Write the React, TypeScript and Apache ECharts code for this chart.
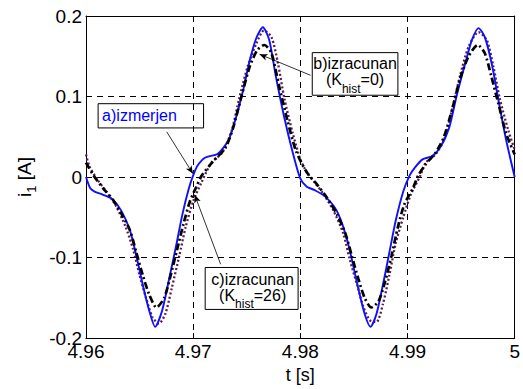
import React, { useEffect, useRef } from 'react';
import * as echarts from 'echarts';

// a) measured current
const tMeasured = [4.9600,4.9604,4.9608,4.9616,4.9625,4.9633,4.9641,4.9647,4.9653,4.9659,4.96645,4.9671,4.9677,4.9684,4.9690,4.9696,4.9700,4.9704,4.9711,4.9723,4.9733,4.9740,4.9747,4.9753,4.9759,4.9765,4.9771,4.9777,4.9785,4.9793,4.9800,4.9806,4.9813,4.9823,4.9834,4.9842,4.9848,4.9854,4.9860,4.98654,4.9871,4.9877,4.9883,4.9889,4.9896,4.9902,4.9907,4.9914,4.9923,4.9931,4.9939,4.9946,4.9954,4.9960,4.99662,4.9972,4.9979,4.9985,4.9992,5.0000];
const iMeasured = [0.000,-0.014,-0.018,-0.022,-0.028,-0.042,-0.066,-0.098,-0.134,-0.166,-0.186,-0.166,-0.130,-0.086,-0.046,-0.014,0.002,0.014,0.024,0.029,0.046,0.074,0.110,0.146,0.173,0.186,0.170,0.126,0.074,0.030,-0.002,-0.012,-0.016,-0.024,-0.042,-0.070,-0.102,-0.138,-0.170,-0.186,-0.170,-0.134,-0.094,-0.054,-0.018,0.002,0.012,0.022,0.026,0.038,0.062,0.102,0.142,0.170,0.185,0.174,0.138,0.094,0.046,0.000];

// b) computed, Khist = 0
const tCalc0 = [4.9600,4.9607,4.9616,4.9625,4.9634,4.9641,4.9647,4.9653,4.9659,4.96657,4.9673,4.9679,4.9685,4.9691,4.9697,4.9703,4.9708,4.9719,4.9730,4.9737,4.9745,4.9753,4.9760,4.97665,4.9773,4.9780,4.9788,4.9796,4.9806,4.9816,4.9825,4.9834,4.9842,4.9848,4.9854,4.9860,4.98663,4.9873,4.9879,4.9885,4.9891,4.9897,4.9905,4.9910,4.9917,4.9926,4.9934,4.9942,4.9949,4.9957,4.99655,4.9972,4.9978,4.9985,4.9992,5.0000];
const iCalc0 = [0.018,0.002,-0.014,-0.028,-0.048,-0.066,-0.094,-0.122,-0.146,-0.162,-0.150,-0.122,-0.090,-0.058,-0.030,-0.012,0.002,0.020,0.036,0.060,0.100,0.138,0.158,0.164,0.154,0.114,0.070,0.032,0.006,-0.010,-0.026,-0.046,-0.070,-0.098,-0.126,-0.150,-0.162,-0.154,-0.130,-0.098,-0.062,-0.034,-0.014,0.002,0.016,0.030,0.050,0.086,0.122,0.150,0.164,0.154,0.126,0.090,0.054,0.028];

// c) computed, Khist = 26
const tCalc26 = [4.9600,4.9603,4.9610,4.9619,4.9628,4.9637,4.9644,4.9650,4.9656,4.9662,4.9668,4.9674,4.9680,4.9687,4.9693,4.9700,4.9708,4.9717,4.9727,4.9736,4.9743,4.9751,4.9759,4.9766,4.9773,4.9779,4.9785,4.9793,4.9800,4.9806,4.9813,4.9822,4.9831,4.9840,4.9846,4.9853,4.9859,4.9865,4.9871,4.9877,4.9883,4.9889,4.9896,4.9903,4.9912,4.9917,4.9926,4.9934,4.9942,4.9949,4.9957,4.99662,4.9974,4.9980,4.9986,4.9994,5.0000];
const iCalc26 = [0.028,0.014,-0.002,-0.018,-0.036,-0.062,-0.090,-0.122,-0.150,-0.174,-0.182,-0.170,-0.138,-0.098,-0.062,-0.030,-0.006,0.018,0.030,0.058,0.098,0.138,0.166,0.182,0.174,0.142,0.098,0.054,0.022,0.006,-0.006,-0.022,-0.042,-0.070,-0.102,-0.134,-0.162,-0.178,-0.180,-0.158,-0.122,-0.082,-0.050,-0.022,0.002,0.018,0.028,0.046,0.086,0.126,0.162,0.180,0.170,0.138,0.098,0.058,0.034];

const xTicks = [4.96, 4.97, 4.98, 4.99, 5];
const yTicks = [-0.2, -0.1, 0, 0.1, 0.2];

const FONT = 'Liberation Sans, Arial, sans-serif';
const W = 523;
const H = 389;

// annotation layout (in data units)
const annA = { box: [4.96113, 0.0911, 4.97097, 0.0610], from: [4.96753, 0.0562], to: [4.96998, 0.0041] };
const annB = { box: [4.98111, 0.1545, 4.98910, 0.1016], from: [4.98095, 0.1264], to: [4.97619, 0.1525] };
const annC = { box: [4.97112, -0.1123, 4.97979, -0.1644], from: [4.97256, -0.1083], to: [4.97014, -0.0220] };

const zip = (t: number[], v: number[]) => t.map((x, i) => [x, v[i]]);

export default function App() {
  const ref = useRef<HTMLDivElement>(null);
  useEffect(() => {
    if (!ref.current) return;
    document.body.style.margin = '0';
    document.body.style.overflow = 'hidden';
    const chart = echarts.init(ref.current, null, { renderer: 'svg', width: W, height: H });
    const axisCommon = {
      type: 'value' as const,
      axisLine: { show: true, onZero: false, lineStyle: { color: '#000', width: 1 } },
      axisTick: { show: true, inside: true, length: 5, lineStyle: { color: '#000', width: 1 } },
    };
    const option: any = {
      animation: false,
      grid: { left: 86, right: 3, top: 16, bottom: 41, containLabel: false },
      xAxis: [
        {
          ...axisCommon,
          min: xTicks[0], max: xTicks[xTicks.length - 1], interval: 0.01,
          position: 'bottom',
          axisLabel: {
            color: '#000', fontSize: 19, fontFamily: FONT, margin: 4,
            showMinLabel: true, showMaxLabel: true,
            formatter: (v: number) => String(Number(v.toFixed(2))),
          },
          splitLine: { show: true, lineStyle: { color: '#000', width: 1, type: [6, 5] } },
          name: 't [s]', nameLocation: 'middle', nameGap: 24,
          nameTextStyle: { color: '#000', fontSize: 18, fontFamily: FONT },
        },
        {
          ...axisCommon,
          min: xTicks[0], max: xTicks[xTicks.length - 1], interval: 0.01,
          position: 'top',
          axisLabel: { show: false },
          splitLine: { show: false },
        },
      ],
      yAxis: [
        {
          ...axisCommon,
          min: yTicks[0], max: yTicks[yTicks.length - 1], interval: 0.1,
          position: 'left',
          axisLabel: {
            color: '#000', fontSize: 19, fontFamily: FONT, margin: 4,
            showMinLabel: true, showMaxLabel: true,
            formatter: (v: number) => String(Number(v.toFixed(1))),
          },
          splitLine: { show: true, lineStyle: { color: '#000', width: 1, type: [6, 5] } },
          name: '{a|i}{b|1}{a| [A]}', nameLocation: 'middle', nameGap: 48,
          nameTextStyle: {
            color: '#000', fontFamily: FONT,
            rich: {
              a: { fontSize: 19, fontFamily: FONT, color: '#000', lineHeight: 19, verticalAlign: 'top' },
              b: { fontSize: 13, fontFamily: FONT, color: '#000', lineHeight: 13, padding: [10, 0, 0, 0], verticalAlign: 'top' },
            },
          },
        },
        {
          ...axisCommon,
          min: yTicks[0], max: yTicks[yTicks.length - 1], interval: 0.1,
          position: 'right',
          axisLabel: { show: false },
          splitLine: { show: false },
        },
      ],
      series: [
        {
          name: 'a)izmerjen', type: 'line', data: zip(tMeasured, iMeasured),
          showSymbol: false, smooth: 0.25, silent: true,
          lineStyle: { color: '#1010ff', width: 1.9 },
          emphasis: { disabled: true },
          z: 3,
        },
        {
          name: 'b)izracunan (Khist=0)', type: 'line', data: zip(tCalc0, iCalc0),
          showSymbol: false, smooth: 0.25, silent: true,
          lineStyle: { color: '#000', width: 2.7, type: [7, 3, 2, 3] },
          emphasis: { disabled: true },
          z: 4,
        },
        {
          name: 'c)izracunan (Khist=26)', type: 'line', data: zip(tCalc26, iCalc26),
          showSymbol: false, smooth: 0.25, silent: true,
          lineStyle: { color: '#571c57', width: 2.3, type: [2, 2.2] },
          emphasis: { disabled: true },
          z: 2,
          markLine: {
            silent: true, symbol: ['none', 'arrow'], symbolSize: [5, 8],
            label: { show: false },
            lineStyle: { color: '#000', width: 0.8, type: 'solid' },
            emphasis: { disabled: true },
            data: [annA, annB, annC].map((a) => [
              { coord: a.from },
              { coord: a.to },
            ]),
          },
        },
      ],
    };
    chart.setOption(option);

    const px = (p: number[]) => chart.convertToPixel({ gridIndex: 0 }, p) as number[];
    const boxRect = (b: number[]) => {
      const p1 = px([b[0], b[1]]);
      const p2 = px([b[2], b[3]]);
      return { x: p1[0], y: p1[1], w: p2[0] - p1[0], h: p2[1] - p1[1] };
    };
    const ra = boxRect(annA.box);
    const rb = boxRect(annB.box);
    const rc = boxRect(annC.box);
    const rich = {
      n: { fontSize: 16, fontFamily: FONT, color: '#000', lineHeight: 16, verticalAlign: 'top' },
      s: { fontSize: 12, fontFamily: FONT, color: '#000', lineHeight: 12, padding: [11, 0, 0, 0], verticalAlign: 'top' },
    };
    const rectEl = (r: any) => ({
      type: 'rect', shape: { x: r.x, y: r.y, width: r.w, height: r.h },
      style: { fill: 'none', stroke: '#000', lineWidth: 1 }, silent: true, z: 100,
    });
    chart.setOption({
      graphic: [
        rectEl(ra),
        {
          type: 'text', x: ra.x + 4, y: ra.y + ra.h / 2, silent: true, z: 101,
          style: { text: 'a)izmerjen', fill: '#0000ff', fontSize: 16, fontFamily: FONT, align: 'left', verticalAlign: 'middle' },
        },
        rectEl(rb),
        {
          type: 'text', x: rb.x + rb.w / 2, y: rb.y + 3, silent: true, z: 101,
          style: { text: '{n|b)izracunan}\n{n|(K}{s|hist}{n|=0)}', rich, align: 'center', verticalAlign: 'top' },
        },
        rectEl(rc),
        {
          type: 'text', x: rc.x + rc.w / 2 + 1, y: rc.y + 4, silent: true, z: 101,
          style: { text: '{n|c)izracunan}\n{n|(K}{s|hist}{n|=26)}', rich, align: 'center', verticalAlign: 'top' },
        },
      ],
    });
    return () => chart.dispose();
  }, []);
  return <div ref={ref} style={{ width: W, height: H, background: '#fff' }} />;
}
